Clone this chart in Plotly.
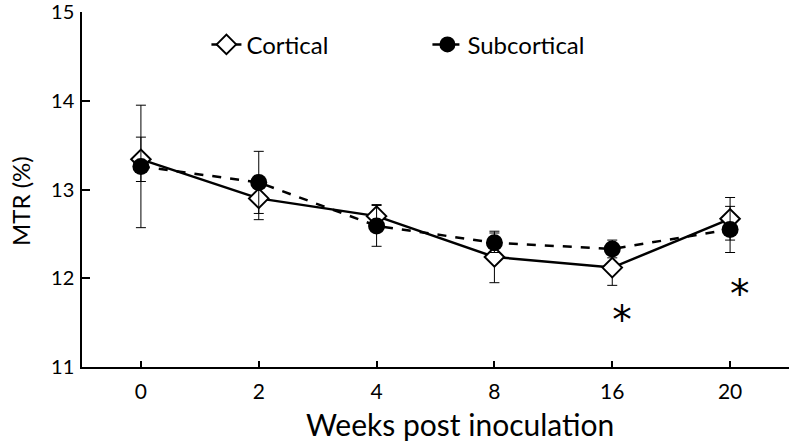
import plotly.graph_objects as go

weeks = ["0", "2", "4", "8", "16", "20"]
cortical = [13.34, 12.90, 12.70, 12.24, 12.12, 12.67]
cortical_err = [0.25, 0.24, 0.13, 0.29, 0.20, 0.24]
subcortical = [13.26, 13.08, 12.59, 12.40, 12.33, 12.55]
subcortical_err = [0.69, 0.35, 0.23, 0.11, 0.10, 0.26]
star_weeks = ["16", "20"]
star_y = [11.49, 11.79]

FONT = "Lato"

fig = go.Figure()
fig.add_trace(go.Scatter(
    x=weeks, y=cortical, name="Cortical", mode="lines+markers",
    line=dict(color="black", width=2.5),
    marker=dict(symbol="diamond", size=15, color="white",
                line=dict(color="black", width=2)),
    error_y=dict(type="data", array=cortical_err, visible=True,
                 color="black", thickness=1, width=5),
))
fig.add_trace(go.Scatter(
    x=weeks, y=subcortical, name="Subcortical", mode="lines+markers",
    line=dict(color="black", width=2.5, dash="dash"),
    marker=dict(symbol="circle", size=17, color="black"),
    error_y=dict(type="data", array=subcortical_err, visible=True,
                 color="black", thickness=1, width=5),
))
fig.add_trace(go.Scatter(
    x=star_weeks, y=star_y, mode="text", text=["*"] * len(star_weeks),
    textposition="middle right", showlegend=False, hoverinfo="skip",
    textfont=dict(size=39, color="black", family="DejaVu Sans"),
))

fig.add_annotation(text="Weeks post inoculation", xref="paper", yref="paper",
                   x=0.535, y=-0.16, xanchor="center", yanchor="middle",
                   showarrow=False, font=dict(size=30))
fig.add_annotation(text="MTR (%)", xref="paper", yref="paper",
                   x=-0.0877, y=0.4676, xanchor="center", yanchor="middle",
                   textangle=-90, showarrow=False, font=dict(size=24))

fig.update_layout(
    width=792, height=442,
    margin=dict(l=82, r=3, t=12, b=75),
    paper_bgcolor="white", plot_bgcolor="white",
    font=dict(family=FONT, color="black", size=21),
    showlegend=True,
    legend=dict(orientation="h", x=0.176, y=0.971, xanchor="left", yanchor="top",
                font=dict(size=24), entrywidth=176, entrywidthmode="pixels",
                bgcolor="rgba(0,0,0,0)"),
    xaxis=dict(
        type="category", range=[-0.5, 5.5], automargin=False,
        showline=True, linecolor="black", linewidth=1.5,
        ticks="inside", ticklen=6, tickcolor="black",
        tickwidth=1.5, showgrid=False, zeroline=False,
        tickfont=dict(size=21), ticklabeloverflow="allow",
        ticklabelstandoff=5,
    ),
    yaxis=dict(
        range=[11, 15], tickvals=[11, 12, 13, 14, 15], automargin=False,
        showline=True, linecolor="black", linewidth=1.5,
        ticks="inside", ticklen=8, tickcolor="black", tickwidth=1.5,
        showgrid=False, zeroline=False,
        tickfont=dict(size=20), ticklabeloverflow="allow",
        ticklabelstandoff=2,
    ),
)

fig.write_html("out.html", config={"displayModeBar": False},
               post_script="document.body.style.margin='0';")
